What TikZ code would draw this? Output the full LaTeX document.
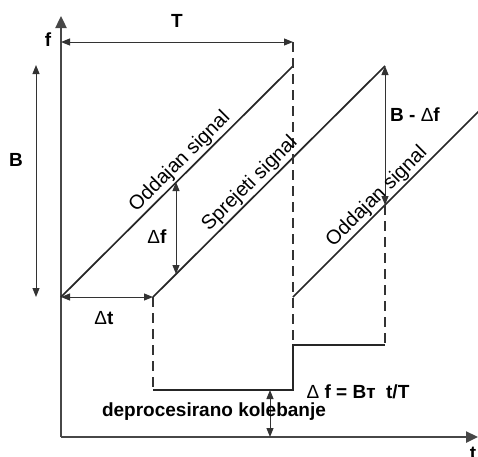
\documentclass[tikz,border=0pt]{standalone}
\usepackage{fontspec}
\setmainfont{Liberation Sans}
\usetikzlibrary{arrows.meta}
\begin{document}
\begin{tikzpicture}[x=1pt,y=-1pt,
  ln/.style={line width=1.7pt, draw=black!85},
  axisln/.style={line width=2.4pt, draw=black!72, -{Triangle[length=12pt,width=11pt]}},
  dimarr/.style={line width=1pt, draw=black!80, {Triangle[length=9pt,width=7pt]}-{Triangle[length=9pt,width=7pt]}},
  dsh/.style={line width=1.2pt, draw=black!80, dash pattern=on 10pt off 6pt},
  lbl/.style={font=\fontsize{19}{19}\selectfont\bfseries, inner sep=1pt},
  diag/.style={font=\fontsize{20}{20}\selectfont, rotate=45, anchor=south, inner sep=2pt}]
\useasboundingbox (0,0) rectangle (478,456);
% coordinates
\coordinate (O) at (61,437);
\coordinate (ytop) at (61,16);
\coordinate (xend) at (478,437);
\coordinate (A0) at (61,297);
\coordinate (A1) at (293,66);
\coordinate (S0) at (153,297);
\coordinate (S1) at (385,66);
\coordinate (C0) at (293,297);
\coordinate (C1) at (480,110);
\coordinate (Ttop) at (293,42);
\coordinate (Tleft) at (61,42);
\coordinate (Btop) at (36,65);
\coordinate (Bbot) at (36,297);
\coordinate (dfT) at (176,182);
\coordinate (dfB) at (176,274);
\coordinate (BdfB) at (385,205);
\coordinate (L1) at (153,390);
\coordinate (L2) at (293,390);
\coordinate (L3) at (293,345);
\coordinate (L4) at (385,345);
\coordinate (K1) at (270,390);
\coordinate (K2) at (270,437);
% axes
\draw[axisln] (O) -- (ytop);
\draw[axisln] (O) -- (xend);
% signals
\draw[ln] (A0) -- (A1);
\draw[ln] (S0) -- (S1);
\draw[ln] (C0) -- (C1);
% dashed
\draw[dsh] (Ttop) -- (L3);
\draw[dsh] (S0) -- (L1);
\draw[dsh] (BdfB) -- (L4);
% step
\draw[ln] (L1) -- (L2) -- (L3) -- (L4);
% dimension arrows
\draw[dimarr] (Tleft) -- (Ttop);
\draw[dimarr] (Btop) -- (Bbot);
\draw[dimarr] (A0) -- (S0);
\draw[dimarr] (dfT) -- (dfB);
\draw[dimarr] (S1) -- (BdfB);
\draw[dimarr] (K1) -- (K2);
% labels
\node[lbl] (lT) at (177,21) {T};
\node[lbl] (lf) at (48,40) {f};
\node[lbl] (lB) at (16,160) {B};
\node[lbl] (ldf) at (157,237) {\mdseries Δ\bfseries f};
\node[lbl] (ldt) at (104,318) {\mdseries Δ\bfseries t};
\node[lbl] (lBdf) at (415,115) {B - \mdseries Δ\bfseries f};
\node[lbl] (lform) at (358,392) {\mdseries Δ\bfseries\ f = Bт\ \ t/T};
\node[lbl] (lkol) at (214,412) {deprocesirano kolebanje};
\node[lbl] (lt) at (473,453) {t};
\node[diag] (d1) at (188,170) {Oddajan signal};
\node[diag] (d2) at (258,192) {Sprejeti signal};
\node[diag] (d3) at (385,205) {Oddajan signal};
\end{tikzpicture}
\end{document}
